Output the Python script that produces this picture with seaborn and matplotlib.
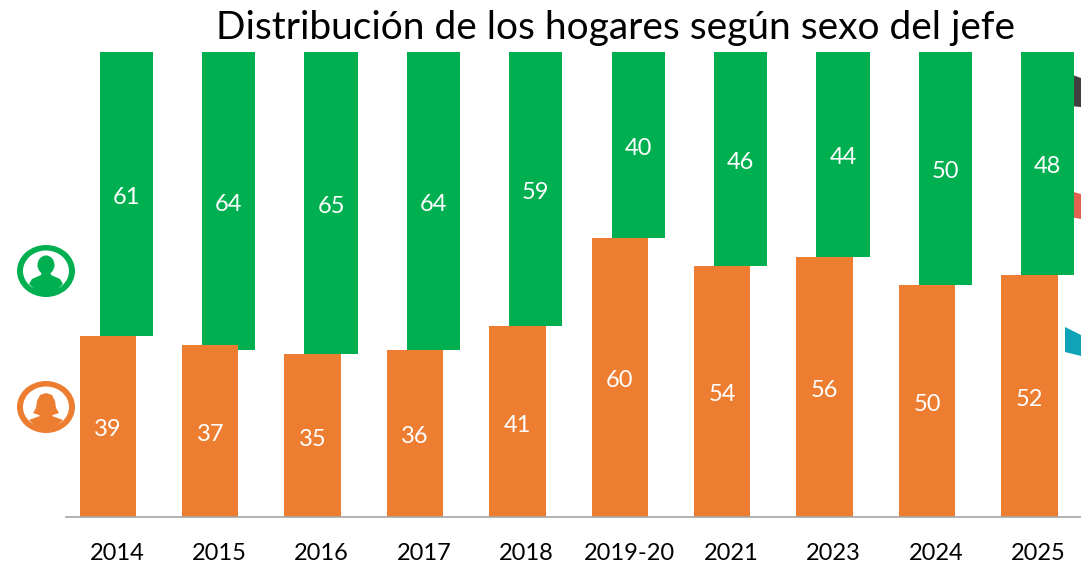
import matplotlib
matplotlib.use("Agg")
import matplotlib.pyplot as plt
import numpy as np
import pandas as pd
import seaborn as sns
from matplotlib.patches import Ellipse, Polygon

years = ["2014", "2015", "2016", "2017", "2018", "2019-20", "2021", "2023", "2024", "2025"]
hombre = [61, 64, 65, 64, 59, 40, 46, 44, 50, 48]
mujer = [39, 37, 35, 36, 41, 60, 54, 56, 50, 52]

GREEN = "#00B050"
ORANGE = "#ED7D31"
W, H = 1081, 564

sns.set_theme(style="white")
plt.rcParams["font.family"] = ["Lato", "DejaVu Sans"]

fig = plt.figure(figsize=(W / 100, H / 100), dpi=100)

# slivers of shapes cut off at the right edge, behind the bars
bg = fig.add_axes([0, 0, 1, 1])
bg.set_xlim(0, W)
bg.set_ylim(H, 0)
bg.axis("off")
bg.add_patch(Polygon([(1070, 74), (1081, 78), (1081, 107), (1070, 106)], color="#404040", lw=0))
bg.add_patch(Polygon([(1070, 191), (1081, 194), (1081, 219), (1070, 217)], color="#E2634F", lw=0))
bg.add_patch(Polygon([(1065, 327), (1081, 335), (1081, 356), (1065, 352)], color="#0FA3B8", lw=0))

# axes box in pixels: x 66..1081, y 52..517
ax = fig.add_axes([66 / W, 1 - 517 / H, (W - 66) / W, 465 / H])
ax.patch.set_visible(False)
ax2 = ax.twinx()
ax2.patch.set_visible(False)
ax.set_zorder(ax2.get_zorder() + 1)

pos = np.arange(len(years))
df = pd.DataFrame({"pos": pos, "year": years, "hombre": hombre, "mujer": mujer})

# green bars hang from the top, so they go on an inverted twin axis
sns.barplot(data=df.assign(p=df["pos"] - 0.09), x="p", y="mujer", native_scale=True,
            color=ORANGE, saturation=1, width=0.55, linewidth=0, ax=ax)
sns.barplot(data=df.assign(p=df["pos"] + 0.09), x="p", y="hombre", native_scale=True,
            color=GREEN, saturation=1, width=0.52, linewidth=0, ax=ax2)

ax.set_ylim(0, 100)
ax2.set_ylim(100, 0)
step = 102.4
x0 = (117 - 66) / step
ax.set_xlim(-x0, -x0 + (W - 66) / step)

for a in (ax, ax2):
    for t in a.bar_label(a.containers[0], label_type="center", color="white", fontsize=17):
        t.set_va("center_baseline")
        t.xyann = (0, -1)

ax.set_xticks(pos)
ax.set_xticklabels(years, fontsize=17, color="black")
ax.tick_params(axis="x", length=0, pad=18.5)
ax.set_yticks([])
ax2.set_yticks([])
ax.set_xlabel("")
ax.set_ylabel("")
ax2.set_ylabel("")
for a in (ax, ax2):
    for s in ["top", "left", "right", "bottom"]:
        a.spines[s].set_visible(False)
ax.spines["bottom"].set_visible(True)
ax.spines["bottom"].set_color("#A6A6A6")
ax.spines["bottom"].set_linewidth(1.2)

fig.text(615 / W, 1 - 28 / H, "Distribución de los hogares según sexo del jefe",
         ha="center", va="center", fontsize=28, color="black")

# person icons
fg = fig.add_axes([0, 0, 1, 1])
fg.set_xlim(0, W)
fg.set_ylim(H, 0)
fg.axis("off")
fg.patch.set_visible(False)


def icon(cy, color, woman):
    fg.add_patch(Ellipse((46, cy), 58, 52, color=color, lw=0))
    fg.add_patch(Ellipse((46, cy), 46, 41, color="white", lw=0))
    if woman:
        outline = [(33, cy + 6), (36, cy + 1), (37, cy - 6), (40, cy - 12), (46, cy - 14), (52, cy - 12),
                   (55, cy - 6), (56, cy + 1), (59, cy + 6), (53, cy + 8), (52, cy + 9), (63, cy + 13),
                   (57, cy + 19), (50, cy + 22), (42, cy + 22), (35, cy + 19), (29, cy + 13),
                   (40, cy + 9), (39, cy + 8)]
        fg.add_patch(Polygon(outline, color=color, lw=0))
    else:
        fg.add_patch(Ellipse((46, cy - 6), 17, 19, color=color, lw=0))
        outline = [(42, cy - 1), (50, cy - 1), (51, cy + 4), (60, cy + 8), (63, cy + 13), (57, cy + 19),
                   (50, cy + 22), (42, cy + 22), (35, cy + 19), (29, cy + 13), (32, cy + 8), (41, cy + 4)]
        fg.add_patch(Polygon(outline, color=color, lw=0))


icon(271, GREEN, False)
icon(407, ORANGE, True)

fig.savefig("out.png", dpi=100)
